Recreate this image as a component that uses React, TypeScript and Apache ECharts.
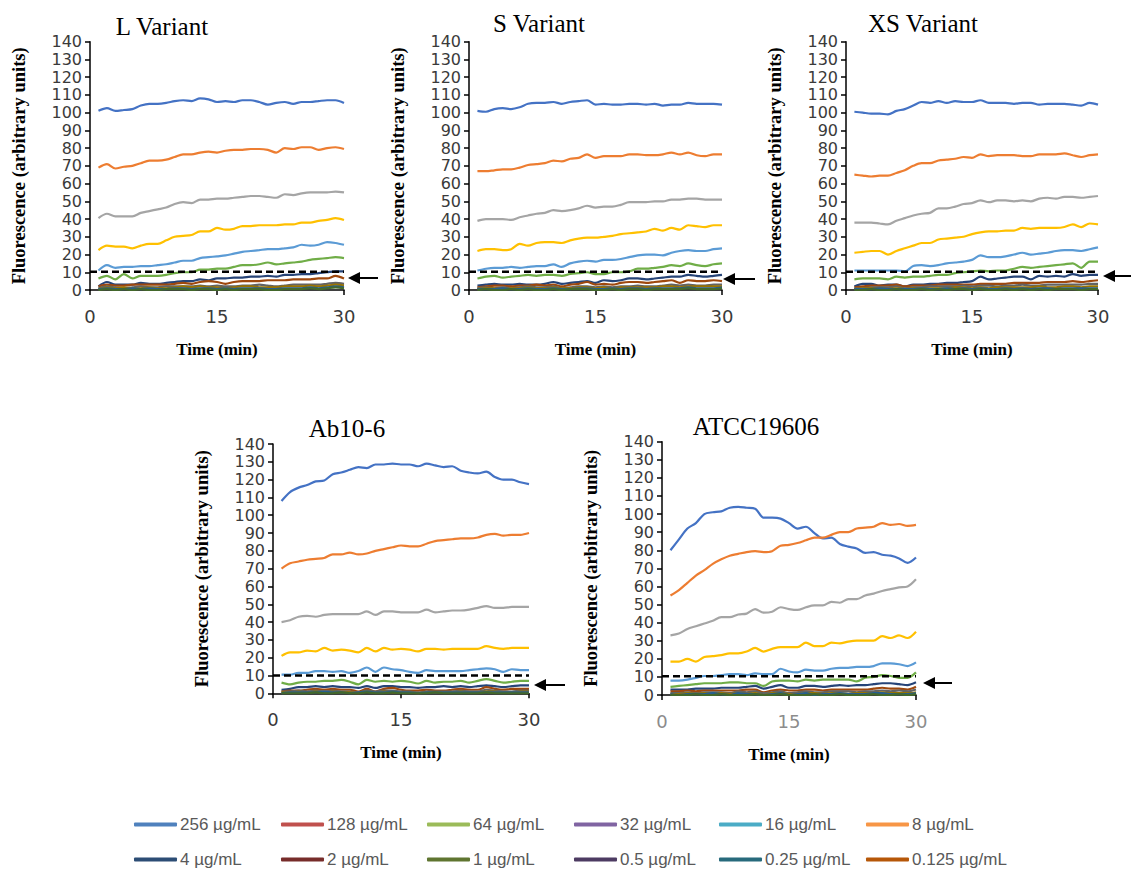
import React, { useEffect, useRef } from "react";
import * as echarts from "echarts";

// ---------- DATA ----------
const minutes = [1, 2, 3, 4, 5, 6, 7, 8, 9, 10, 11, 12, 13, 14, 15, 16, 17, 18, 19, 20, 21, 22, 23, 24, 25, 26, 27, 28, 29, 30];
const concentrations = ["256 µg/mL", "128 µg/mL", "64 µg/mL", "32 µg/mL", "16 µg/mL", "8 µg/mL", "4 µg/mL", "2 µg/mL", "1 µg/mL", "0.5 µg/mL", "0.25 µg/mL", "0.125 µg/mL"];
const panelTitles = ["L Variant", "S Variant", "XS Variant", "Ab10-6", "ATCC19606"];
const xTicks = [0, 15, 30];
const thresholds = [10.3, 10.3, 10.3, 10, 10.3];

// L Variant
const L256 = [101, 102.5, 101, 101.5, 102, 104, 105, 105, 105.5, 106.5, 107, 106.5, 108, 107.5, 106, 106.5, 106, 107, 107, 106, 104.5, 105.5, 106, 105, 106, 106, 106.5, 107, 107, 105.5];
const L128 = [69, 71, 68.5, 69.5, 70, 71.5, 73, 73, 73.5, 75, 76.5, 76.5, 77.5, 78, 77.5, 78.5, 79, 79, 79.5, 79.5, 79, 77.5, 80, 79.5, 80.5, 80.5, 79, 80, 80.5, 79.5];
const L64 = [40.5, 43, 41.5, 41.5, 41.5, 43.5, 44.5, 45.5, 46.5, 48.5, 49.5, 49, 51, 51, 51.5, 51.5, 52, 52.5, 53, 53, 52.5, 52, 54, 53.5, 54.5, 55, 55, 55, 55.5, 55];
const L32 = [22.5, 25, 24.5, 24.5, 23.5, 25, 26, 26, 28, 30, 30.5, 31, 33, 33, 35, 34, 34.5, 36, 36, 36.5, 36.5, 36.5, 37, 37, 38, 38, 39, 39.5, 40.5, 39.5];
const L16 = [11, 14, 12.5, 13, 13, 13.5, 13.5, 14, 14.5, 15.5, 16.5, 16.5, 18, 18.5, 19, 19.5, 20.5, 21.5, 22, 22.5, 23, 23, 23.5, 24, 25.5, 25, 25.5, 27, 26.5, 25.5];
const L8 = [6.5, 8, 6, 9, 6.5, 8, 8, 8, 8.5, 9.5, 10, 10, 11.5, 11.5, 12, 12, 13, 14, 14, 14.5, 15.5, 14.5, 15, 15.5, 16, 17, 17.5, 18, 18.5, 18];
const L4 = [2, 4.5, 3, 3, 3, 4, 3.5, 3.5, 4, 4.5, 5, 5, 6, 5.5, 6.5, 6.5, 7, 7, 7.5, 7.5, 8, 7.5, 8.5, 8.5, 9, 9, 9.5, 10, 10.5, 10.5];
const L2 = [2, 3, 2.5, 2.5, 3, 3, 3, 3, 3, 3.5, 4, 3.5, 4.5, 5, 4.5, 3.5, 4.5, 5, 5, 5, 5.5, 5.5, 5.5, 6, 6, 6, 6.5, 6.5, 8, 6.5];
const L1 = [1, 2, 1.5, 1, 1.5, 2, 1.5, 1.5, 2, 2, 2, 2, 2.5, 2, 2.5, 2, 2, 2.5, 2.5, 3, 2.5, 2, 2.5, 3, 3, 3, 3, 3.5, 4, 3.5];
const L05 = [0.5, 1.5, 1, 1.5, 1, 1, 1.5, 1, 1, 1.5, 2, 1.5, 2, 1.5, 1.5, 1, 1.5, 2, 2, 1.5, 1.5, 1.5, 2, 2, 2, 2.5, 2, 2.5, 3, 2.5];
const L025 = [0.5, 1, 0.5, 0.5, 1, 0.5, 1, 0.5, 0.5, 1, 1, 0.5, 1, 1, 0.5, 1, 0.5, 1, 1, 1, 0.5, 0.5, 1, 1, 1, 1.5, 1, 1.5, 2, 1.5];
const L0125 = [0, 0.5, 0, 0.5, 0, 0.5, 0, 0, 0.5, 0.5, 0.5, 0, 0.5, 0.5, 0, 0.5, 0, 0.5, 0.5, 0.5, 0, 0, 0.5, 0.5, 0.5, 1, 0.5, 1, 1.5, 1];

// S Variant
const S256 = [101, 100.5, 102, 102.5, 102, 103, 105, 105.5, 105.5, 106, 105, 106, 106.5, 107, 104.5, 105, 104.5, 104.5, 105, 105, 104.5, 105, 104, 104.5, 104.5, 105.5, 105, 105, 105, 104.5];
const S128 = [67, 67, 67.5, 68, 68, 69, 70.5, 71, 71.5, 73, 72.5, 74, 74.5, 76.5, 74.5, 75.5, 75.5, 75.5, 76.5, 76.5, 76, 76, 76.5, 77.5, 76.5, 77.5, 76, 75.5, 76.5, 76.5];
const S64 = [39, 40, 40, 40, 39.5, 41, 42, 43, 43.5, 45, 44.5, 45, 46, 47.5, 46.5, 47, 47, 48, 49.5, 49.5, 49.5, 50, 50, 51, 51, 51.5, 51.5, 51, 51, 51];
const S32 = [22, 23, 23, 22.5, 23, 26, 25, 26.5, 27, 27, 26.5, 28, 29, 29.5, 29.5, 30, 30.5, 31.5, 32, 32.5, 33, 34.5, 33.5, 35, 34, 36.5, 36, 35.5, 36.5, 36.5];
const S16 = [11, 12, 12.5, 12.5, 13, 12.5, 13, 13.5, 13.5, 14.5, 13, 15, 16, 16.5, 16, 17, 17, 17.5, 18.5, 19.5, 20, 20, 19.5, 21, 22, 22.5, 22, 22, 23, 23.5];
const S8 = [6.5, 7.5, 8, 7, 7.5, 8, 8.5, 8, 8.5, 8.5, 8, 9, 9.5, 10, 9, 9, 10, 10, 10.5, 12, 12, 12.5, 13, 14, 13.5, 15, 14, 13.5, 14.5, 15];
const S4 = [2.5, 3, 3.5, 3, 3, 3.5, 3, 3, 3.5, 4.5, 3.5, 4, 4.5, 5, 4, 5.5, 5, 5.5, 6.5, 6.5, 6, 6.5, 7, 7.5, 7.5, 8.5, 8, 7.5, 8, 8.5];
const S2 = [1.5, 2, 2.5, 2.5, 2, 2.5, 2.5, 3, 2.5, 3, 2, 3, 3.5, 4.5, 3, 3.5, 3, 4, 4.5, 4.5, 4, 4.5, 5, 5.5, 4, 5.5, 5, 5, 5.5, 5];
const S1 = [1, 1.5, 1, 1.5, 1, 1.5, 2, 1.5, 1.5, 2, 1, 1.5, 2, 2, 1.5, 2, 1.5, 2, 2, 2.5, 2, 2, 2.5, 3, 2.5, 3, 2.5, 2.5, 3, 3];
const S05 = [0.5, 1, 1, 0.5, 1, 1, 1.5, 1, 1, 1.5, 1, 1, 1.5, 1.5, 1, 1.5, 1, 1.5, 1.5, 1.5, 1.5, 1.5, 2, 2, 1.5, 2, 2, 2, 2, 2];
const S025 = [0.5, 0.5, 0.5, 1, 0.5, 0.5, 1, 0.5, 0.5, 1, 0.5, 0.5, 1, 1, 0.5, 0.5, 1, 0.5, 1, 1, 0.5, 1, 1, 1, 1, 1.5, 1, 1, 1, 1.5];
const S0125 = [0, 0.5, 0, 0, 0.5, 0, 0.5, 0, 0, 0.5, 0, 0.5, 0.5, 0.5, 0, 0, 0.5, 0, 0.5, 0.5, 0, 0.5, 0.5, 0.5, 0.5, 1, 0.5, 0.5, 0.5, 1];

// XS Variant
const XS256 = [100.5, 100, 99.5, 99.5, 99, 101, 102, 104, 106, 105.5, 106.5, 105.5, 106.5, 106, 106, 107, 105.5, 105.5, 105.5, 105, 105.5, 105.5, 104.5, 105, 105, 105, 104.5, 104, 105.5, 104.5];
const XS128 = [65, 64.5, 64, 64.5, 64.5, 66, 67.5, 70, 71.5, 71.5, 73, 73.5, 74, 75, 74.5, 76.5, 75.5, 76, 76, 76, 75.5, 75.5, 76.5, 76.5, 76.5, 77, 76, 75, 76, 76.5];
const XS64 = [38, 38, 38, 37.5, 37, 39, 40.5, 42, 43, 43.5, 46, 46, 47, 48.5, 49, 50.5, 49.5, 50.5, 50.5, 50, 50.5, 50, 51.5, 52, 51.5, 52.5, 52.5, 52, 52.5, 53];
const XS32 = [21, 21.5, 22, 22, 20, 22, 23.5, 25, 26.5, 26.5, 28.5, 29, 29.5, 30, 31.5, 32.5, 33, 33, 33.5, 33.5, 35, 34.5, 35, 35, 35, 35.5, 37, 35.5, 37.5, 37];
const XS16 = [11, 11, 11, 11, 11, 11, 10.5, 13.5, 14, 13.5, 14, 15, 15.5, 16, 17, 19.5, 18.5, 18.5, 19, 20, 21, 20, 20.5, 21, 22, 22.5, 22.5, 22, 23, 24];
const XS8 = [6, 6.5, 6.5, 6.5, 6, 7.5, 7, 7.5, 7.5, 8, 8.5, 8.5, 9.5, 10, 10.5, 11, 10.5, 11, 11, 12, 13, 12.5, 13, 13.5, 14, 14.5, 15, 12.5, 16, 16];
const XS4 = [2, 3.5, 3.5, 2.5, 3, 3, 2, 3, 3, 3.5, 3.5, 4, 4, 4.5, 5, 7.5, 6, 6.5, 7, 7.5, 7.5, 6, 8, 7.5, 8, 7.5, 9, 8, 8.5, 8.5];
const XS2 = [1.5, 2, 2.5, 2.5, 2.5, 3, 2, 2.5, 2.5, 2.5, 3, 3, 3, 3, 3, 3.5, 3.5, 3.5, 3.5, 4, 4, 4, 4, 4.5, 4.5, 4.5, 5, 4.5, 5, 5.5];
const XS1 = [1, 1, 1.5, 1.5, 1.5, 2, 1, 1.5, 1.5, 2, 2, 2, 2, 2.5, 2, 2.5, 2.5, 2, 2.5, 2.5, 3, 2.5, 2.5, 3, 3, 3, 3, 3, 3.5, 3.5];
const XS05 = [0.5, 1, 1, 1, 0.5, 1, 0.5, 1, 1, 1, 1, 1, 1.5, 1.5, 1, 1.5, 1, 1.5, 1.5, 1.5, 1.5, 1.5, 2, 1.5, 1.5, 2, 2, 1.5, 2, 2];
const XS025 = [0.5, 0.5, 0.5, 1, 0.5, 0.5, 0.5, 0.5, 1, 0.5, 0.5, 1, 0.5, 1, 0.5, 1, 0.5, 0.5, 1, 0.5, 1, 0.5, 1, 1, 0.5, 1, 1, 1, 1, 1];
const XS0125 = [0, 0, 0.5, 0, 0, 0.5, 0, 0, 0.5, 0, 0.5, 0, 0.5, 0.5, 0, 0.5, 0, 0, 0.5, 0, 0.5, 0, 0.5, 0, 0.5, 0.5, 0.5, 0, 0.5, 0.5];

// Ab10-6
const AB256 = [108, 113, 115.5, 117, 119, 119.5, 123, 124, 125.5, 127, 126.5, 128.5, 128.5, 129, 128.5, 128.5, 127.5, 129, 128, 127, 127.5, 125, 124, 123.5, 124.5, 121.5, 120, 120, 118.5, 117.5];
const AB128 = [70, 73, 74, 75, 75.5, 76, 78, 78, 79, 78, 78.5, 80, 81, 82, 83, 82.5, 82.5, 84, 85.5, 86, 86.5, 87, 87, 87.5, 89, 89.5, 88.5, 89, 89, 90];
const AB64 = [40, 41, 43, 43.5, 43, 44, 44.5, 44.5, 44.5, 44.5, 46, 44, 46, 46, 45.5, 45.5, 45.5, 47, 45.5, 46, 46.5, 46.5, 47, 48, 49, 48, 48, 48.5, 48.5, 48.5];
const AB32 = [21, 23, 23, 24, 23.5, 25.5, 24, 24.5, 24, 23, 25.5, 23.5, 25.5, 24.5, 25, 24.5, 23.5, 25, 25, 24.5, 25, 25, 25, 25, 26.5, 25.5, 25, 25.5, 25.5, 25.5];
const AB16 = [10.5, 10.5, 11.5, 11.5, 12.5, 12.5, 12, 12.5, 11.5, 12.5, 14.5, 12, 14.5, 13.5, 13, 12, 11.5, 13, 12.5, 12.5, 12.5, 12.5, 13, 13.5, 14, 13.5, 12, 13.5, 13, 13];
const AB8 = [6, 5, 6, 6.5, 6.5, 7, 7, 7.5, 6.5, 5, 7.5, 6.5, 7, 6.5, 7, 6.5, 5.5, 7, 6, 6.5, 6.5, 7, 6, 7, 8, 7, 6, 6.5, 7, 7];
const AB4 = [2, 2.5, 3.5, 3.5, 4, 3.5, 4, 3.5, 3.5, 3, 4, 3, 4, 4, 3.5, 3.5, 3, 3.5, 3.5, 4, 3.5, 4, 3.5, 4, 4.5, 4, 3.5, 4, 4.5, 4.5];
const AB2 = [1, 1.5, 1.5, 2, 2.5, 2, 2.5, 2, 2, 1, 2.5, 1, 2.5, 3, 2, 1.5, 1.5, 2, 1.5, 1.5, 2, 2.5, 2, 2, 3.5, 2.5, 2, 2.5, 2.5, 2.5];
const AB1 = [1, 1, 1.5, 1, 1.5, 1, 1.5, 1, 1, 0.5, 1.5, 1, 1.5, 1.5, 1, 1, 0.5, 1, 1, 1, 1, 1.5, 1, 1, 2, 1.5, 1, 1, 1.5, 1.5];
const AB05 = [0.5, 0.5, 1, 0.5, 1, 0.5, 1, 0.5, 0.5, 0, 1, 0.5, 1, 0.5, 0.5, 0.5, 0, 0.5, 0.5, 0.5, 0.5, 1, 0.5, 0.5, 1, 1, 0.5, 0.5, 1, 1];
const AB025 = [0, 0.5, 0.5, 0.5, 0.5, 1, 0.5, 0.5, 0, 0.5, 1, 0.5, 0.5, 1, 0.5, 0.5, 0, 0.5, 0.5, 0.5, 0.5, 0.5, 0.5, 0.5, 0.5, 0.5, 0.5, 0.5, 0.5, 0.5];
const AB0125 = [0, 0, 0, 0, 0.5, 0, 0, 0.5, 0, 0, 0.5, 0, 0, 0.5, 0, 0, 0, 0, 0.5, 0, 0, 0, 0, 0, 0.5, 0, 0, 0, 0, 0];

// ATCC19606
const AT256 = [80, 86, 92, 95, 100, 101, 101.5, 103.5, 104, 103.5, 103, 98, 98, 97.5, 95, 92, 93, 89.5, 86.5, 87, 83.5, 82, 81, 78.5, 79, 77.5, 77, 75.5, 73, 76];
const AT128 = [55, 58, 62, 66, 69, 72.5, 75, 77, 78, 79, 79.5, 79, 79.5, 82.5, 83, 84, 85.5, 87, 87, 88.5, 90, 90, 92, 92.5, 93, 95, 94, 94.5, 93.5, 94];
const AT64 = [33, 34, 36.5, 38, 39.5, 41, 43, 43, 44.5, 45, 47.5, 45.5, 46, 48.5, 47.5, 47, 48.5, 49.5, 49.5, 51.5, 51, 53, 53, 55, 56, 57.5, 58.5, 59.5, 60, 64];
const AT32 = [18.5, 18.5, 20, 18.5, 21, 21.5, 22, 23, 23, 24, 26, 24, 25.5, 26.5, 26.5, 26.5, 29, 27, 27, 29, 28.5, 29.5, 30, 30, 30, 32.5, 31.5, 33, 31.5, 35];
const AT16 = [8, 8, 8.5, 9.5, 10.5, 10.5, 11, 11.5, 11.5, 11, 12, 11.5, 11.5, 14.5, 13, 12.5, 14, 13.5, 13.5, 14.5, 15, 15, 15.5, 15.5, 16, 17.5, 17.5, 17, 16, 18];
const AT8 = [4.5, 5, 5.5, 6, 6.5, 6.5, 6.5, 7, 7, 6.5, 6.5, 5, 7.5, 8, 8, 7.5, 8.5, 8, 8.5, 8.5, 8.5, 8.5, 7.5, 9.5, 10, 11, 10.5, 9.5, 9.5, 12.5];
const AT4 = [3, 3, 3, 3.5, 3.5, 3.5, 4, 4, 4, 4.5, 5, 3.5, 4.5, 5.5, 4, 4, 5, 5, 4.5, 5, 5.5, 5, 5.5, 5.5, 6, 6.5, 6.5, 6, 5.5, 7];
const AT2 = [2, 2, 2.5, 2, 2.5, 2.5, 2.5, 2.5, 2.5, 3, 3, 1.5, 2.5, 3, 2.5, 2.5, 3, 3, 2.5, 3, 3, 3, 3, 3, 3.5, 4, 3.5, 3.5, 3, 4.5];
const AT1 = [1, 1, 1.5, 1, 1.5, 1.5, 1.5, 1, 2, 1.5, 2, 1, 1.5, 2, 1, 1.5, 2, 1.5, 1.5, 2, 2, 2, 1.5, 2, 2, 2.5, 2, 2.5, 2, 3];
const AT05 = [0.5, 0.5, 1, 0.5, 1, 0.5, 1, 0.5, 1, 0.5, 1, 0, 1, 1, 0.5, 0.5, 1, 1, 0.5, 1, 1, 0.5, 1, 1, 1, 1.5, 1, 1, 1, 1.5];
const AT025 = [0.5, 0, 0.5, 0.5, 0.5, 1, 0.5, 0, 1, 0.5, 0.5, 0, 0.5, 1, 0, 0.5, 1, 0, 0.5, 0.5, 1, 0.5, 0.5, 0.5, 1, 1, 0.5, 0.5, 0.5, 1];
const AT0125 = [0, 0, 0, 0.5, 0, 0, 0.5, 0, 0, 0, 0.5, 0, 0, 0.5, 0, 0, 0, 0.5, 0, 0, 0.5, 0, 0, 0, 0.5, 0, 0, 0.5, 0, 0.5];

const panelSeries = [
  [L256, L128, L64, L32, L16, L8, L4, L2, L1, L05, L025, L0125],
  [S256, S128, S64, S32, S16, S8, S4, S2, S1, S05, S025, S0125],
  [XS256, XS128, XS64, XS32, XS16, XS8, XS4, XS2, XS1, XS05, XS025, XS0125],
  [AB256, AB128, AB64, AB32, AB16, AB8, AB4, AB2, AB1, AB05, AB025, AB0125],
  [AT256, AT128, AT64, AT32, AT16, AT8, AT4, AT2, AT1, AT05, AT025, AT0125],
];

// ---------- STYLE / LAYOUT ----------
const lineColors = ["#4472C4", "#ED7D31", "#A5A5A5", "#FFC000", "#5B9BD5", "#70AD47", "#264478", "#9E480E", "#636363", "#997300", "#255E91", "#43682B"];
const legendColors = ["#4F81BD", "#C0504D", "#9BBB59", "#8064A2", "#4BACC6", "#F79646", "#2C4D75", "#772C2A", "#5F7530", "#4D3B62", "#276A7C", "#B65708"];

const grids = [
  { left: 90, top: 41.7, width: 254, height: 248.3 },
  { left: 469, top: 41.7, width: 253, height: 248.3 },
  { left: 846, top: 41.7, width: 252, height: 248.3 },
  { left: 273, top: 444, width: 256, height: 249.3 },
  { left: 662, top: 441.7, width: 254, height: 253.3 },
];
const titlePos = [
  [162, 26],
  [539, 23],
  [923, 23],
  [347, 428],
  [756, 426],
];
const arrowPos = [
  [348, 278, 378],
  [723, 279, 755],
  [1103, 276, 1131],
  [534, 685, 565],
  [923, 683, 952],
];
const legendCols = [134, 281, 427, 574, 719, 866];
const legendRows = [826, 861];

export default function App() {
  const ref = useRef<HTMLDivElement>(null);
  useEffect(() => {
    if (!ref.current) return;
    const chart = echarts.init(ref.current, undefined, { renderer: "svg" });

    const xAxes = grids.map((_, p) => ({
      type: "value",
      gridIndex: p,
      min: xTicks[0],
      max: xTicks[2],
      interval: xTicks[1] - xTicks[0],
      axisLine: { show: true, lineStyle: { color: "#000", width: 1.5 } },
      axisTick: { show: true, length: 5, lineStyle: { color: "#000", width: 1.5 } },
      splitLine: { show: false },
      axisLabel: {
        fontFamily: "DejaVu Sans",
        fontSize: 18,
        color: p === 4 ? "#8c8c8c" : "#3a3a3a",
        margin: 17,
      },
      name: "Time (min)",
      nameLocation: "middle",
      nameGap: 51,
      nameTextStyle: { fontFamily: "Liberation Serif", fontWeight: "bold", fontSize: 17, color: "#000" },
    }));

    const yAxes = grids.map((_, p) => ({
      type: "value",
      gridIndex: p,
      min: 0,
      max: 140,
      interval: 10,
      axisLine: { show: true, lineStyle: { color: "#000", width: 1.5 } },
      axisTick: { show: true, length: 5, lineStyle: { color: "#000", width: 1.5 } },
      splitLine: { show: false },
      axisLabel: { fontFamily: "DejaVu Sans", fontSize: 16, lineHeight: 16, color: "#3a3a3a", margin: 8 },
      name: "Fluorescence (arbitrary units)",
      nameLocation: "middle",
      nameRotate: 90,
      nameGap: 62,
      nameTextStyle: { fontFamily: "Liberation Serif", fontWeight: "bold", fontSize: 18.5, color: "#000" },
    }));

    const series: any[] = [];
    panelSeries.forEach((list, p) => {
      list.forEach((vals, i) => {
        series.push({
          type: "line",
          name: concentrations[i],
          xAxisIndex: p,
          yAxisIndex: p,
          data: minutes.map((m, k) => [m, vals[k]]),
          symbol: "none",
          showSymbol: false,
          smooth: 0.3,
          lineStyle: { width: 2.2, color: lineColors[i] },
          itemStyle: { color: lineColors[i] },
          z: 2,
        });
      });
      series.push({
        type: "line",
        name: "threshold",
        xAxisIndex: p,
        yAxisIndex: p,
        data: [
          [xTicks[0], thresholds[p]],
          [xTicks[2], thresholds[p]],
        ],
        symbol: "none",
        silent: true,
        lineStyle: { width: 2.5, color: "#000", type: [7, 4] },
        z: 3,
      });
    });

    const legends = concentrations.map((name, i) => ({
      left: legendCols[i % 6],
      top: legendRows[Math.floor(i / 6)] - 10,
      padding: 0,
      itemWidth: 43,
      itemHeight: 4,
      itemGap: 0,
      data: [
        {
          name,
          icon: "roundRect",
          itemStyle: { color: legendColors[i] },
          lineStyle: { color: legendColors[i] },
        },
      ],
      textStyle: { fontFamily: "Liberation Sans", fontSize: 17, color: "#595959", padding: [0, 0, 0, -2] },
    }));

    const graphics: any[] = [];
    panelTitles.forEach((t, p) => {
      graphics.push({
        type: "text",
        x: titlePos[p][0],
        y: titlePos[p][1],
        style: {
          text: t,
          font: "25px 'Liberation Serif'",
          fill: "#000",
          align: "center",
          verticalAlign: "middle",
        },
      });
    });
    arrowPos.forEach(([tip, y, tail]) => {
      graphics.push({
        type: "group",
        children: [
          { type: "line", shape: { x1: tip + 10, y1: y, x2: tail, y2: y }, style: { stroke: "#000", lineWidth: 2 } },
          {
            type: "polygon",
            shape: { points: [[tip, y], [tip + 12, y - 6], [tip + 12, y + 6]] },
            style: { fill: "#000" },
          },
        ],
      });
    });

    chart.setOption({
      animation: false,
      backgroundColor: "#fff",
      grid: grids.map((g) => ({ ...g, containLabel: false })),
      xAxis: xAxes,
      yAxis: yAxes,
      legend: legends,
      series,
      graphic: graphics,
    });
    return () => chart.dispose();
  }, []);
  return <div ref={ref} style={{ position: "absolute", left: 0, top: 0, width: 1131, height: 870 }} />;
}
